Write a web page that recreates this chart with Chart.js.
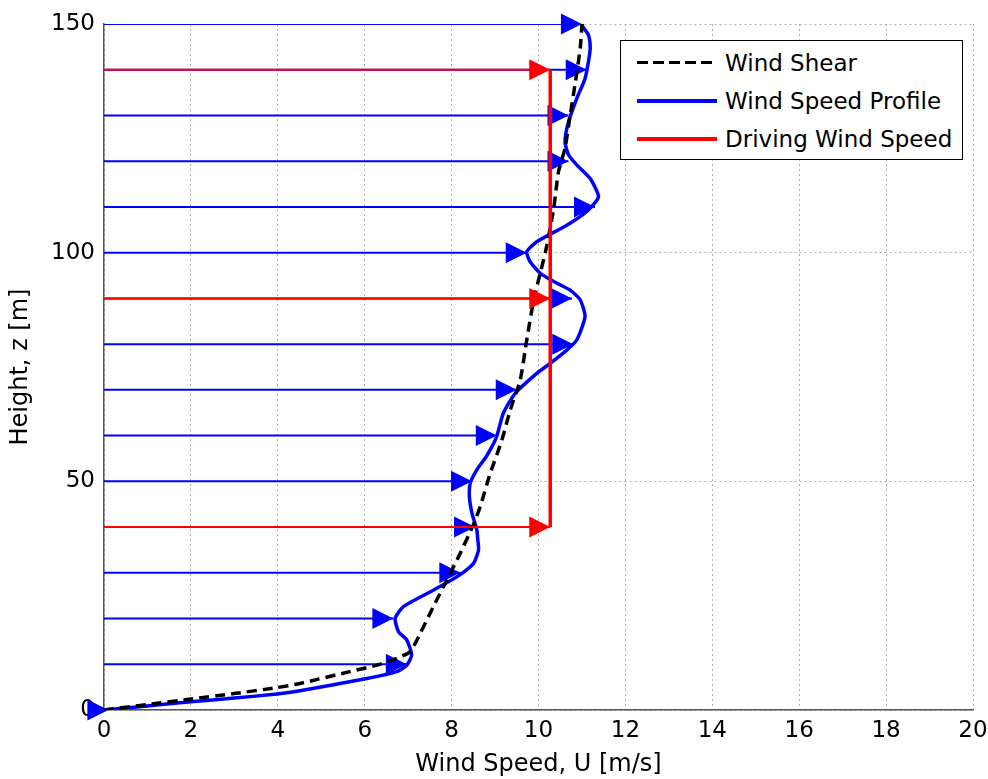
<!DOCTYPE html>
<html>
<head>
<meta charset="utf-8">
<script src="https://cdn.jsdelivr.net/npm/chart.js@4.4.1/dist/chart.umd.min.js"></script>
<style>
    body { margin: 0; background: #fff; }
    #wrap { position: relative; width: 988px; height: 779px; }
    #legend {
        position: absolute; left: 620px; top: 40px; width: 343px; height: 120px;
        box-sizing: border-box; border: 1px solid #000; background: #fff;
        font-family: "DejaVu Sans", sans-serif; font-size: 23px; color: #000;
    }
    .row { position: absolute; left: 0; height: 30px; width: 100%; }
    .sample { position: absolute; left: 16px; width: 80px; top: 13px; }
    .row span { position: absolute; left: 104px; top: 0; line-height: 30px; white-space: nowrap; }
</style>
</head>
<body>
<div id="wrap">
    <canvas id="myChart"></canvas>
    <div id="legend">
        <div class="row" style="top:7px">
            <div class="sample" style="height:3px;background:repeating-linear-gradient(to right,#000 0 11px,transparent 11px 16px)"></div>
            <span>Wind Shear</span>
        </div>
        <div class="row" style="top:45px">
            <div class="sample" style="height:4px;background:#0000ff"></div>
            <span>Wind Speed Profile</span>
        </div>
        <div class="row" style="top:83px">
            <div class="sample" style="height:4px;background:#ff0000"></div>
            <span>Driving Wind Speed</span>
        </div>
    </div>
</div>
<script>
// arrow heights and where the blue arrows end
let heights = [0, 10, 20, 30, 40, 50, 60, 70, 80, 90, 100, 110, 120, 130, 140, 150]
let profileTips = [0.1, 6.97, 6.66, 8.2, 8.54, 8.47, 9.04, 9.5, 10.8, 10.77, 9.73, 11.3, 10.69, 10.69, 11.11, 11.0]

// driving wind speed (red)
let drivingHeights = [40, 90, 140]
let drivingSpeed = 10.27

// wind shear (dashed)
let shearU = [0, 1, 2, 3, 3.98, 4.51, 5.66, 6.28, 6.74, 7.05, 7.28, 7.58, 7.89, 8.2, 8.5, 8.66, 8.89, 9.14, 9.35, 9.58, 9.73, 9.89, 10.04, 10.17, 10.35, 10.46, 10.61, 10.73, 10.85, 10.96, 11.0]
let shearZ = [0, 1.2, 2.4, 3.6, 4.9, 5.8, 8.4, 9.8, 11.3, 12.8, 16.8, 22.6, 28.4, 34.3, 40.5, 44.5, 51.8, 58.5, 65.6, 72.2, 80.9, 89.7, 95.5, 100.6, 109.7, 117.7, 122.8, 130.1, 137.4, 144.7, 150]

// wind speed profile (blue)
let profileU = [0, 1, 2, 3, 3.98, 4.51, 6.05, 6.74, 6.97, 7.08, 6.97, 6.78, 6.70, 6.89, 7.58, 8.12, 8.5, 8.62, 8.6, 8.58, 8.47, 8.41, 8.43, 8.58, 8.81, 9.03, 9.19, 9.46, 9.96, 10.27, 10.65, 10.88, 11.07, 10.96, 10.73, 10.35, 10.04, 9.81, 9.73, 9.96, 10.65, 11.11, 11.38, 11.19, 10.88, 10.69, 10.61, 10.69, 10.88, 11.07, 11.15, 11.19, 11.15, 11.02, 11.0]
let profileZ = [0, 0.9, 1.8, 2.6, 3.5, 4.2, 6.9, 8.4, 9.8, 12, 15.3, 17.1, 20, 22.6, 26.2, 29.1, 32, 35, 37.5, 39.4, 43, 46.6, 49.6, 52.5, 55.6, 59.6, 64.9, 69.2, 73.6, 75.8, 78.7, 80.9, 86, 89.7, 91.8, 93.7, 95.5, 98, 100.2, 102.4, 106, 109, 112.2, 116.2, 119.2, 121.4, 124.3, 128.6, 133.7, 138, 141.8, 144.7, 147.6, 149.4, 150]

let xTicks = [0, 20, 2]
let yTicks = [0, 150, 50]

const BLUE = "#0000ff"
const RED = "#ff0000"
const FONT = "DejaVu Sans"

function pairs(xs, ys) {
    let out = []
    for (let i = 0; i < xs.length; i++) out.push({x: xs[i], y: ys[i]})
    return out
}

// draws a filled arrow head at the last point of a dataset
const arrowHeads = {
    id: "arrowHeads",
    afterDatasetDraw(chart, args) {
        let ds = chart.data.datasets[args.index]
        if (!ds.arrowHead) return
        let pts = args.meta.data
        let tip = pts[pts.length - 1]
        let ctx = chart.ctx
        ctx.save()
        ctx.fillStyle = ds.borderColor
        ctx.beginPath()
        ctx.moveTo(tip.x, tip.y)
        ctx.lineTo(tip.x - 21, tip.y - 10.5)
        ctx.lineTo(tip.x - 21, tip.y + 10.5)
        ctx.closePath()
        ctx.fill()
        ctx.restore()
    }
}

let datasets = []

datasets.push({
    label: "Wind Speed Profile",
    data: pairs(profileU, profileZ),
    borderColor: BLUE,
    borderWidth: 3.5,
    tension: 0.2,
    order: 5
})

for (let i = 0; i < heights.length; i++) {
    datasets.push({
        label: "arrow " + heights[i],
        data: [{x: 0, y: heights[i]}, {x: profileTips[i], y: heights[i]}],
        borderColor: BLUE,
        borderWidth: 2,
        arrowHead: true,
        order: 4
    })
}

datasets.push({
    label: "Wind Shear",
    data: pairs(shearU, shearZ),
    borderColor: "#000",
    borderWidth: 3.5,
    borderDash: [10, 6],
    tension: 0.2,
    order: 3
})

for (let i = 0; i < drivingHeights.length; i++) {
    datasets.push({
        label: "driving " + drivingHeights[i],
        data: [{x: 0, y: drivingHeights[i]}, {x: drivingSpeed, y: drivingHeights[i]}],
        borderColor: RED,
        borderWidth: 2,
        arrowHead: true,
        order: 1
    })
}

datasets.push({
    label: "Driving Wind Speed",
    data: [{x: drivingSpeed, y: drivingHeights[0]}, {x: drivingSpeed, y: drivingHeights[drivingHeights.length - 1]}],
    borderColor: RED,
    borderWidth: 3.5,
    order: 0
})

for (let d of datasets) {
    d.showLine = true
    d.pointRadius = 0
    d.fill = false
}

let chart = new Chart(document.getElementById("myChart").getContext("2d"), {
    type: "scatter",
    data: {datasets: datasets},
    options: {
        responsive: true,
        maintainAspectRatio: false,
        animation: false,
        layout: {padding: {top: 24, right: 15, left: 0, bottom: 0}},
        plugins: {
            legend: {display: false},
            tooltip: {enabled: false}
        },
        scales: {
            x: {
                type: "linear",
                min: xTicks[0],
                max: xTicks[1],
                afterFit: s => { s.height = 69; s.paddingRight = 0; s.paddingLeft = 0 },
                ticks: {stepSize: xTicks[2], color: "#000", padding: 7, font: {family: FONT, size: 23}},
                grid: {color: "#b0b0b0", lineWidth: 1, drawTicks: false},
                border: {color: "#555", width: 1.5, dash: [2, 3]},
                title: {display: true, text: "Wind Speed, U [m/s]", color: "#000", font: {family: FONT, size: 24}, padding: {top: 0, bottom: 0}}
            },
            y: {
                type: "linear",
                min: yTicks[0],
                max: yTicks[1],
                afterFit: s => { s.width = 104 },
                ticks: {stepSize: yTicks[2], color: "#000", padding: 9, font: {family: FONT, size: 23}},
                grid: {color: "#b0b0b0", lineWidth: 1, drawTicks: false},
                border: {color: "#555", width: 1.5, dash: [2, 3]},
                title: {display: true, text: "Height, z [m]", color: "#000", font: {family: FONT, size: 24}, padding: {top: 6, bottom: 0}}
            }
        }
    },
    plugins: [arrowHeads]
});
</script>
</body>
</html>
